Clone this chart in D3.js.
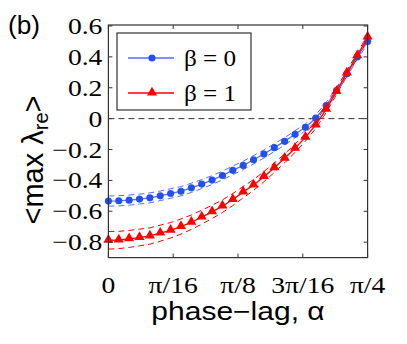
<!DOCTYPE html>
<html>
<head>
<meta charset="utf-8">
<script src="https://cdn.jsdelivr.net/npm/d3@7"></script>
<style>
  body { margin: 0; background: #fff; }
</style>
</head>
<body>
<div id="chart"></div>
<script>
// alpha = k*pi/100, k = 0..25
var alphaStep = [0, 1, 2, 3, 4, 5, 6, 7, 8, 9, 10, 11, 12, 13, 14, 15, 16, 17, 18, 19, 20, 21, 22, 23, 24, 25];
var beta0 = [-0.534, -0.532, -0.528, -0.521, -0.513, -0.500, -0.485, -0.470, -0.448, -0.424, -0.398, -0.368, -0.335,
  -0.303, -0.266, -0.229, -0.188, -0.147, -0.101, -0.056, 0.003, 0.085, 0.182, 0.290, 0.400, 0.500];
var beta1 = [-0.788, -0.786, -0.779, -0.770, -0.760, -0.742, -0.723, -0.699, -0.671, -0.638, -0.604, -0.567, -0.524,
  -0.476, -0.430, -0.376, -0.318, -0.257, -0.192, -0.121, -0.041, 0.060, 0.175, 0.295, 0.407, 0.528];
var spread0 = [0.033, 0.033, 0.033, 0.032, 0.032, 0.031, 0.031, 0.030, 0.030, 0.029, 0.029, 0.028, 0.028,
  0.027, 0.027, 0.026, 0.025, 0.024, 0.023, 0.022, 0.021, 0.020, 0.019, 0.018, 0.017, 0.016];
var spread1 = [0.057, 0.056, 0.055, 0.054, 0.053, 0.052, 0.050, 0.049, 0.047, 0.045, 0.043, 0.041, 0.039,
  0.037, 0.035, 0.033, 0.031, 0.029, 0.027, 0.025, 0.023, 0.021, 0.019, 0.018, 0.017, 0.016];
var xTicks = [0, Math.PI / 16, Math.PI / 8, 3 * Math.PI / 16, Math.PI / 4];
var xTickLabels = ["0", "π/16", "π/8", "3π/16", "π/4"];
var yTicks = [-0.8, -0.6, -0.4, -0.2, 0, 0.2, 0.4, 0.6];
var legendLabels = ["β = 0", "β = 1"];

var serif = "Liberation Serif, Times New Roman, serif";
var sans = "Liberation Sans, Arial, sans-serif";
var blueLine = "#4f6fff", blueMark = "#2350ec", red = "#ff0000", axisCol = "#333";

var W = 407, H = 344;
var pLeft = 108.4, pRight = 367.6, pTop = 25, pBottom = 257.6;

var svg = d3.select("#chart").append("svg").attr("width", W).attr("height", H);
svg.append("rect").attr("width", W).attr("height", H).attr("fill", "#fff");

var x = d3.scaleLinear().domain([0, Math.PI / 4]).range([pLeft, pRight]);
var y = d3.scaleLinear().domain([-0.9, 0.6]).range([pBottom, pTop + 1]);

function fmt(v) {
  if (Math.abs(v) < 1e-9) return "0";
  var s = Math.abs(v).toFixed(1);
  return (v < 0 ? "\u2212" : "") + s;
}

// text that is a bit wider than the font draws it (figure was stretched)
function wideText(g, tx, ty, sx, anchor, family, size, str) {
  return g.append("text")
    .attr("transform", "translate(" + tx + "," + ty + ") scale(" + sx + ",1)")
    .attr("text-anchor", anchor)
    .attr("font-family", family).attr("font-size", size)
    .attr("fill", "#000")
    .text(str);
}

// zero line
svg.append("line")
  .attr("x1", pLeft).attr("x2", pRight)
  .attr("y1", y(0)).attr("y2", y(0))
  .attr("stroke", "#333").attr("stroke-width", 1)
  .attr("stroke-dasharray", "6,4");

var series = [
  { vals: beta0, spread: spread0, line: blueLine, mark: blueMark, shape: "circle" },
  { vals: beta1, spread: spread1, line: red, mark: red, shape: "triangle" }
];

var lineGen = d3.line().x(function (d) { return d[0]; }).y(function (d) { return d[1]; });

series.forEach(function (s) {
  var pts = alphaStep.map(function (k, i) { return [x(k * Math.PI / 100), y(s.vals[i])]; });
  var up = alphaStep.map(function (k, i) { return [x(k * Math.PI / 100), y(s.vals[i] + s.spread[i])]; });
  var lo = alphaStep.map(function (k, i) { return [x(k * Math.PI / 100), y(s.vals[i] - s.spread[i])]; });
  [up, lo].forEach(function (p) {
    svg.append("path").attr("d", lineGen(p))
      .attr("fill", "none").attr("stroke", s.line).attr("stroke-width", 1)
      .attr("stroke-dasharray", "6,4");
  });
  svg.append("path").attr("d", lineGen(pts))
    .attr("fill", "none").attr("stroke", s.line).attr("stroke-width", 1.3);
  var sym = d3.symbol().type(s.shape == "circle" ? d3.symbolCircle : d3.symbolTriangle)
    .size(s.shape == "circle" ? 40 : 44);
  svg.append("g").selectAll("path").data(pts).enter().append("path")
    .attr("d", sym)
    .attr("transform", function (d) { return "translate(" + d[0] + "," + (d[1] + (s.shape == "circle" ? 0 : -0.5)) + ")"; })
    .attr("fill", s.mark);
});

// axes box
svg.append("rect")
  .attr("x", pLeft).attr("y", pTop)
  .attr("width", pRight - pLeft).attr("height", pBottom - pTop)
  .attr("fill", "none").attr("stroke", axisCol).attr("stroke-width", 1.2);

var tl = 4;
var axG = svg.append("g").attr("stroke", axisCol).attr("stroke-width", 1);
xTicks.forEach(function (t) {
  axG.append("line").attr("x1", x(t)).attr("x2", x(t)).attr("y1", pBottom).attr("y2", pBottom - tl);
  axG.append("line").attr("x1", x(t)).attr("x2", x(t)).attr("y1", pTop).attr("y2", pTop + tl);
});
yTicks.forEach(function (t) {
  axG.append("line").attr("x1", pLeft).attr("x2", pLeft + tl).attr("y1", y(t)).attr("y2", y(t));
  axG.append("line").attr("x1", pRight).attr("x2", pRight - tl).attr("y1", y(t)).attr("y2", y(t));
});

var yLab = svg.append("g");
yTicks.forEach(function (t) {
  wideText(yLab, pLeft - 6, y(t) + 8, 1.15, "end", serif, 24, fmt(t));
});
var xLab = svg.append("g");
xTicks.forEach(function (t, i) {
  wideText(xLab, x(t), 293, 1.15, "middle", serif, 24, xTickLabels[i]);
});

wideText(svg, 238, 320, 1.2, "middle", sans, 25, "phase\u2212lag, α");

var yl = svg.append("text")
  .attr("transform", "translate(43,160) rotate(-90)")
  .attr("text-anchor", "middle")
  .attr("font-family", sans).attr("font-size", 29);
yl.append("tspan").text("<max λ");
yl.append("tspan").attr("font-size", 20).attr("dy", 5).text("re");
yl.append("tspan").attr("dy", -5).text(">");

wideText(svg, 8, 34, 1.05, "start", sans, 25, "(b)");

// legend
var lg = svg.append("g");
lg.append("rect").attr("x", 117).attr("y", 33).attr("width", 134).attr("height", 77)
  .attr("fill", "#fff").attr("stroke", axisCol).attr("stroke-width", 1.2);
series.forEach(function (s, i) {
  var ly = 58 + i * 35;
  lg.append("line").attr("x1", 128).attr("x2", 174).attr("y1", ly).attr("y2", ly)
    .attr("stroke", s.line).attr("stroke-width", 1.3);
  lg.append("path")
    .attr("d", d3.symbol().type(s.shape == "circle" ? d3.symbolCircle : d3.symbolTriangle).size(s.shape == "circle" ? 40 : 44))
    .attr("transform", "translate(152," + (ly + (s.shape == "circle" ? 0 : -0.5)) + ")")
    .attr("fill", s.mark);
  wideText(lg, 184, ly + 8, 1.05, "start", serif, 24, legendLabels[i]);
});
</script>
</body>
</html>
